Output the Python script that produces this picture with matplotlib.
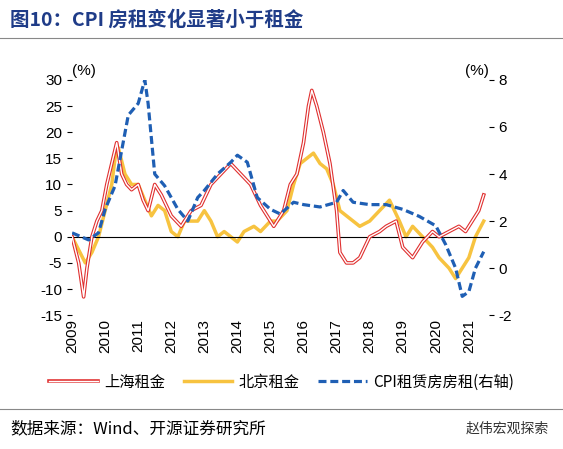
import matplotlib
matplotlib.use("Agg")
import matplotlib.pyplot as plt
from matplotlib.lines import Line2D
import matplotlib.patheffects as pe

plt.rcParams['font.family'] = ['Liberation Sans', 'Noto Sans CJK SC', 'DejaVu Sans']
plt.rcParams['axes.unicode_minus'] = False

sh_t = [2009.0,2009.2,2009.35,2009.45,2009.6,2009.75,2009.9,2010.05,2010.2,2010.35,2010.5,2010.65,2010.8,2011.0,2011.15,2011.3,2011.5,2011.7,2011.85,2012.0,2012.3,2012.6,2012.9,2013.2,2013.5,2013.8,2014.1,2014.4,2014.7,2015.0,2015.1,2015.4,2015.6,2015.8,2016.0,2016.15,2016.25,2016.4,2016.6,2016.8,2017.0,2017.1,2017.3,2017.5,2017.7,2018.0,2018.3,2018.5,2018.8,2019.0,2019.3,2019.6,2019.9,2020.1,2020.4,2020.7,2020.9,2021.1,2021.3,2021.45]
sh_v = [0,-5,-11.5,-6,0,3,5,10,14,18,12,10,9,10,7,5,10,8,6,4,2,5,6,10,12,14,12,10,6,3,2,5,10,12,18,25,28,25,20,14,5,-3,-5,-5,-4,0,1,2,3,-2,-4,-1,1,0,1,2,1,3,5,8]

bj_t = [2009.0,2009.4,2009.6,2009.8,2010.0,2010.2,2010.3,2010.4,2010.6,2010.8,2011.0,2011.2,2011.4,2011.6,2011.8,2012.0,2012.2,2012.4,2012.6,2012.8,2013.0,2013.2,2013.4,2013.6,2013.8,2014.0,2014.2,2014.5,2014.7,2015.0,2015.2,2015.5,2015.7,2015.9,2016.1,2016.3,2016.5,2016.7,2016.9,2017.1,2017.3,2017.5,2017.7,2018.0,2018.3,2018.6,2018.9,2019.1,2019.3,2019.6,2019.9,2020.1,2020.4,2020.6,2020.8,2021.0,2021.2,2021.45]
bj_v = [0,-5,-3,0,5,10,15,17,12,10,10,7,4,6,5,1,0,3,3,3,5,3,0,1,0,-1,1,2,1,3,3,5,10,14,15,16,14,13,10,5,4,3,2,3,5,7,3,0,2,0,-2,-4,-6,-8,-6,-4,0,3]

cpi_t = [2009.0,2009.5,2009.8,2010.0,2010.3,2010.5,2010.7,2011.0,2011.2,2011.3,2011.5,2011.8,2012.2,2012.5,2012.8,2013.0,2013.4,2013.8,2014.0,2014.3,2014.6,2015.0,2015.3,2015.7,2016.0,2016.5,2017.0,2017.2,2017.5,2018.0,2018.5,2019.0,2019.5,2020.0,2020.3,2020.6,2020.8,2021.0,2021.2,2021.45]
cpi_v = [1.5,1.2,1.5,2.5,3.5,5,6.5,7,8,7,4,3.5,2.5,2,3,3.3,4,4.5,4.8,4.5,3,2.5,2.3,2.8,2.7,2.6,2.8,3.3,2.8,2.7,2.7,2.5,2.2,1.8,1.0,0,-1.2,-1,0,0.7]

years = list(range(2009, 2022))

fig = plt.figure(figsize=(5.63, 4.49), dpi=100)
ax = fig.add_axes([0.128, 0.298, 0.74, 0.524])
ax2 = ax.twinx()

ax.plot(sh_t, sh_v, color='#e03030', lw=2.6, zorder=3)
ax.plot(sh_t, sh_v, color='white', lw=1.0, zorder=4)
ax.plot(bj_t, bj_v, color='#f7c340', lw=2.5, zorder=2)
ax2.plot(cpi_t, cpi_v, color='#1f5fb4', lw=2.3, ls=(0, (2.5, 1.2)))

ax.set_ylim(-15, 30); ax.set_yticks(range(-15, 31, 5))
ax2.set_ylim(-2, 8); ax2.set_yticks(range(-2, 9, 2))
ax.set_xlim(2009, 2021.6)
ax.set_xticks(years); ax.set_xticklabels([str(y) for y in years], rotation=90)
ax.axhline(0, color='black', lw=0.8)
for a in (ax, ax2):
    a.tick_params(labelsize=11, direction='out')
    for s in a.spines.values(): s.set_visible(False)
ax.tick_params(axis='x', length=0, pad=3)
ax.text(0.0, 1.01, '(%)', transform=ax.transAxes, fontsize=11, ha='left', va='bottom')
ax.text(1.0, 1.01, '(%)', transform=ax.transAxes, fontsize=11, ha='right', va='bottom')

sh_handle = Line2D([], [], color='white', lw=1.0, path_effects=[pe.Stroke(linewidth=2.6, foreground='#e03030'), pe.Normal()])
bj_handle = Line2D([], [], color='#f7c340', lw=2.5)
cpi_handle = Line2D([], [], color='#1f5fb4', lw=2.3, ls=(0, (2.5, 1.2)))
fig.legend([sh_handle, bj_handle, cpi_handle], ['上海租金', '北京租金', 'CPI租赁房房租(右轴)'],
           loc='center', bbox_to_anchor=(0.5, 0.149), ncol=3, frameon=False, fontsize=11,
           handlelength=3.2, columnspacing=1.2, handletextpad=0.4,
           prop={'family': ['Noto Sans CJK SC', 'DejaVu Sans'], 'size': 11})

fig.text(0.018, 0.955, '图10：CPI 房租变化显著小于租金', fontsize=14, fontweight='bold', color='#1f3c88', va='center',
         family=['Noto Sans CJK SC', 'DejaVu Sans'])
fig.add_artist(Line2D([0.0, 1.0], [0.915, 0.915], color='#888888', lw=0.8))
fig.add_artist(Line2D([0.0, 1.0], [0.09, 0.09], color='#888888', lw=0.8))
fig.text(0.018, 0.045, '数据来源：Wind、开源证券研究所', fontsize=12, va='center',
         family=['Noto Sans CJK SC', 'DejaVu Sans'])
fig.text(0.975, 0.045, '赵伟宏观探索', fontsize=10, va='center', ha='right', color='#333333',
         family=['Noto Sans CJK SC', 'DejaVu Sans'])

fig.savefig('out.png', dpi=100)
